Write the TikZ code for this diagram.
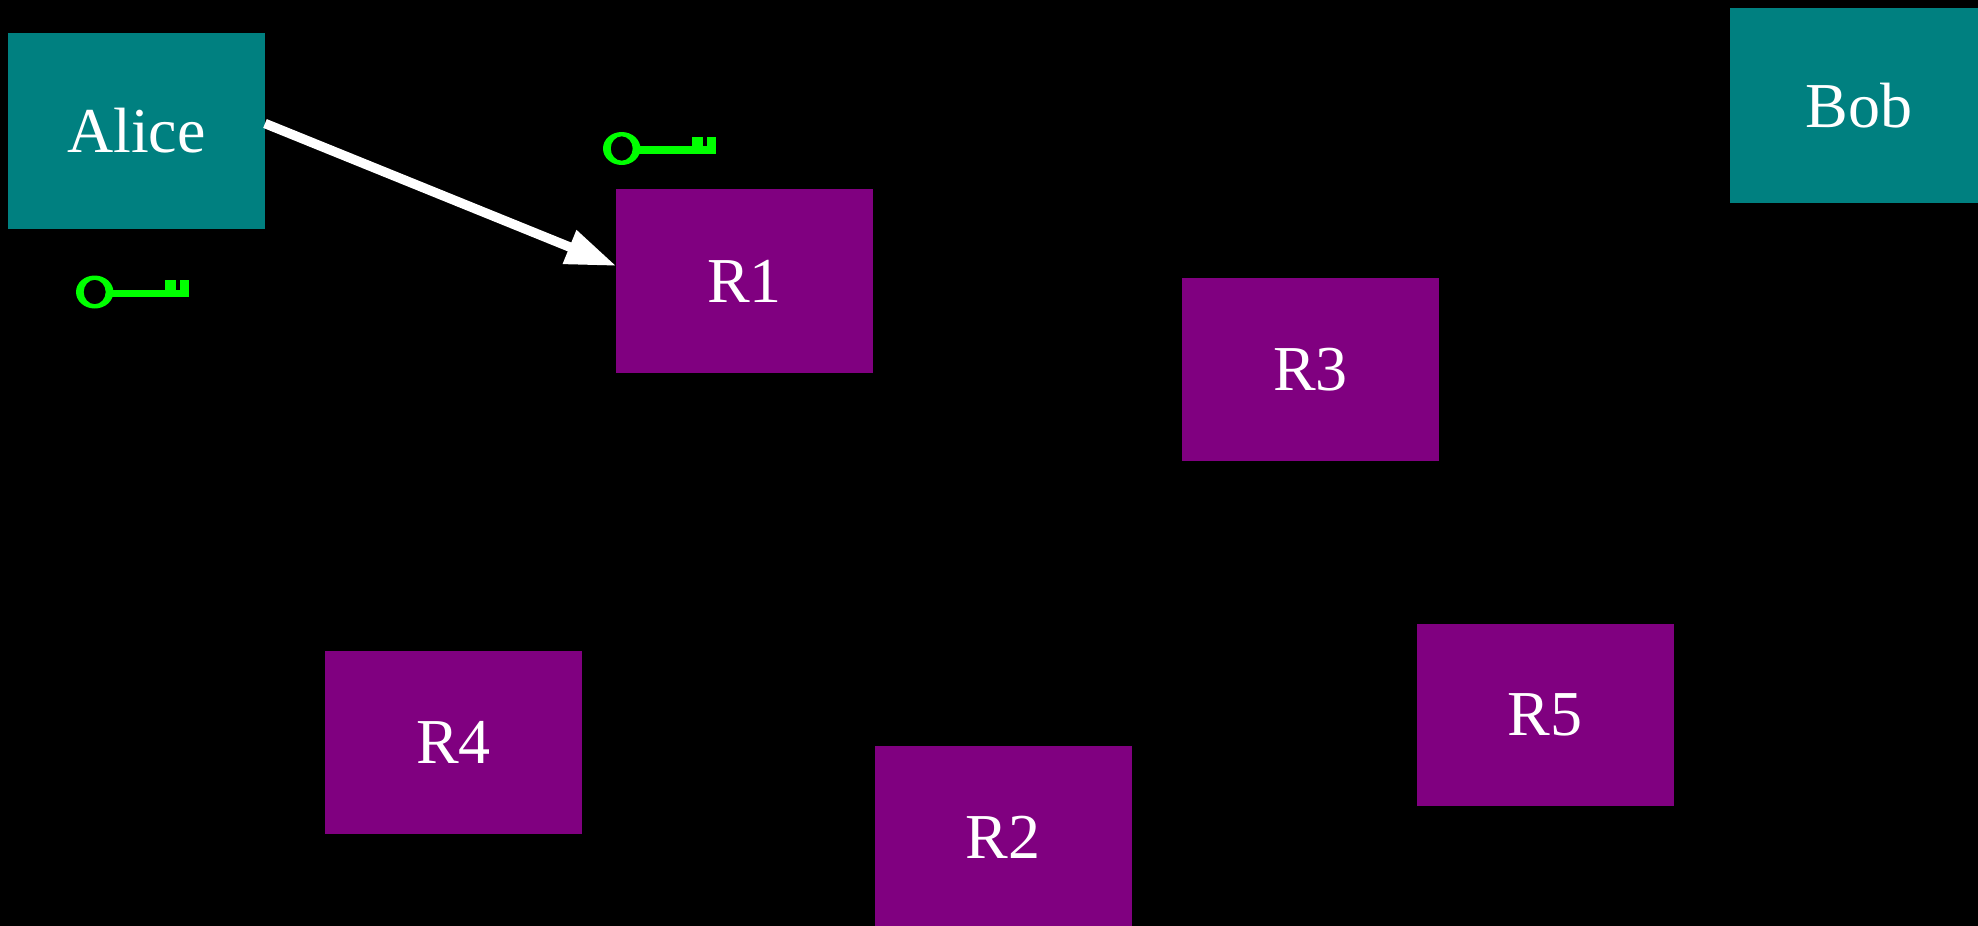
\documentclass[tikz,border=0pt]{standalone}
\usepackage{fontspec}
\setmainfont{Liberation Serif}
\usetikzlibrary{arrows.meta}
\definecolor{tealbox}{RGB}{0,128,128}
\definecolor{purplebox}{RGB}{128,0,128}
\definecolor{keygreen}{RGB}{0,255,0}
\tikzset{
  x=1pt,y=-1pt,
  boxbase/.style={anchor=north west,inner sep=0pt,outer sep=0pt,text=white,align=center,font=\fontsize{64}{70}\selectfont},
  party/.style={boxbase,fill=tealbox},
  relay/.style={boxbase,fill=purplebox},
  link/.style={draw=white,line width=9.5pt,-{Triangle[length=50.7pt,width=34pt,fill=white]}},
  pics/keyicon/.style={code={
    \fill[keygreen,even odd rule] (0,0) ellipse [x radius=18.7pt,y radius=16.5pt]
       (0,0) ellipse [x radius=11pt,y radius=12.2pt];
    \fill[keygreen] (15,-2.3) rectangle (94,5.4);
    \fill[keygreen] (70,-12) rectangle (81,5.4);
    \fill[keygreen] (85,-12) rectangle (94,5.4);
  }}
}
\begin{document}
\begin{tikzpicture}
\fill[black] (0,0) rectangle (1978,926);
\useasboundingbox (0,0) rectangle (1978,926);
\node[party,minimum width=257pt,minimum height=196pt] (alice) at (8,33) {Alice};
\node[party,minimum width=258.5pt,minimum height=195.5pt] (bob) at (1730,7.5) {Bob};
\node[relay,minimum width=257pt,minimum height=184pt] (r1) at (616,189) {R1};
\node[relay,minimum width=257pt,minimum height=183pt] (r3) at (1182,278) {R3};
\node[relay,minimum width=257pt,minimum height=183pt] (r4) at (325,651) {R4};
\node[relay,minimum width=256.5pt,minimum height=182pt] (r5) at (1417,624) {R5};
\node[relay,minimum width=257.5pt,minimum height=183pt] (r2) at (874.5,746) {R2};
\pic at (94.7,292) {keyicon};
\pic at (621.7,148.5) {keyicon};
\coordinate (from) at (265,123.5);
\coordinate (to) at (616.5,266);
\draw[link] (from) -- (to);
\end{tikzpicture}
\end{document}
